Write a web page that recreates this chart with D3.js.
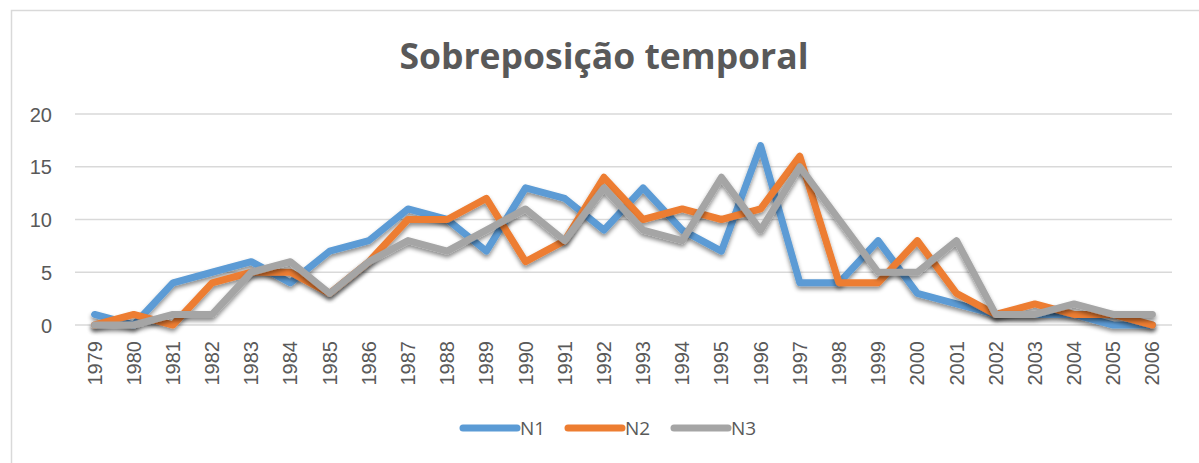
<!DOCTYPE html>
<html>
<head>
<meta charset="utf-8">
<script src="https://cdn.jsdelivr.net/npm/d3@7"></script>
<style>
  body { margin: 0; background: #fff; }
  text { font-family: "Liberation Sans", Arial, sans-serif; fill: #595959; }
</style>
</head>
<body>
<div class="chart"></div>
<script>
var width = 1199, height = 463;

// data
var years = ["1979","1980","1981","1982","1983","1984","1985","1986","1987","1988","1989","1990","1991","1992",
             "1993","1994","1995","1996","1997","1998","1999","2000","2001","2002","2003","2004","2005","2006"];
var n1 = [1,0,4,5,6,4,7,8,11,10,7,13,12,9,13,9,7,17,4,4,8,3,2,1,1,1,0,0];
var n2 = [0,1,0,4,5,5,3,6,10,10,12,6,8,14,10,11,10,11,16,4,4,8,3,1,2,1,1,0];
var n3 = [0,0,1,1,5,6,3,6,8,7,9,11,8,13,9,8,14,9,15,10,5,5,8,1,1,2,1,1];
var seriesNames = ["N1","N2","N3"];
var yTicks = [0,5,10,15,20];
var colors = ["#5B9BD5","#ED7D31","#A5A5A5"];

var series = [n1, n2, n3];

var margin = {left: 75, right: 27, top: 114, bottom: 138};

var svg = d3.select(".chart").append("svg").attr("width", width).attr("height", height);

var defs = svg.append("defs");
var f = defs.append("filter").attr("id", "shadow").attr("x", "-5%").attr("y", "-20%").attr("width", "110%").attr("height", "150%");
f.append("feDropShadow").attr("dx", 0).attr("dy", 3).attr("stdDeviation", 2).attr("flood-color", "#000").attr("flood-opacity", 0.45);

// chart border
svg.append("rect").attr("x", 11.5).attr("y", 10.5).attr("width", 1200).attr("height", 470)
  .attr("fill", "none").attr("stroke", "#d9d9d9").attr("stroke-width", 1.5);

// title
svg.append("text").attr("x", 604).attr("y", 69).attr("text-anchor", "middle")
  .style("font-family", "'Open Sans', sans-serif").style("font-weight", "bold").style("font-size", "35.5px")
  .text("Sobreposição temporal");

var x = d3.scaleBand().domain(years).range([margin.left, width - margin.right]);
var y = d3.scaleLinear().domain([0, 20]).range([height - margin.bottom, margin.top]);

// gridlines
svg.append("g").selectAll("line").data(yTicks).enter().append("line")
  .attr("x1", margin.left).attr("x2", width - margin.right)
  .attr("y1", function(d) { return y(d); }).attr("y2", function(d) { return y(d); })
  .attr("stroke", "#d9d9d9").attr("stroke-width", 1.5);

// y axis
var yAxis = svg.append("g").attr("transform", "translate(" + margin.left + ",0)")
  .call(d3.axisLeft(y).tickValues(yTicks).tickSize(0).tickPadding(23));
yAxis.select(".domain").remove();
yAxis.selectAll("text").style("font-size", "20px").attr("fill", "#595959").attr("dy", "0.35em");

// x axis
var xAxis = svg.append("g").attr("transform", "translate(0," + y(0) + ")")
  .call(d3.axisBottom(x).tickSize(0));
xAxis.select(".domain").remove();
xAxis.selectAll("text")
  .style("font-size", "20px").attr("fill", "#595959")
  .attr("text-anchor", "end")
  .attr("transform", "rotate(-90)")
  .attr("x", -16).attr("y", 0).attr("dy", "0.35em");

// lines
var line = d3.line()
  .x(function(d, i) { return x(years[i]) + x.bandwidth() / 2; })
  .y(function(d) { return y(d); });

svg.append("g").attr("class", "lines").selectAll("path").data(series).enter().append("path")
  .attr("d", line)
  .attr("fill", "none")
  .attr("stroke", function(d, i) { return colors[i]; })
  .attr("stroke-width", 7)
  .attr("stroke-linejoin", "round")
  .attr("stroke-linecap", "round")
  .attr("filter", "url(#shadow)");

// legend
var legend = svg.append("g").attr("class", "legend");
var legendX = [463, 568, 674];
seriesNames.forEach(function(name, i) {
  legend.append("line")
    .attr("x1", legendX[i]).attr("x2", legendX[i] + 54)
    .attr("y1", 428).attr("y2", 428)
    .attr("stroke", colors[i]).attr("stroke-width", 7).attr("stroke-linecap", "round");
  legend.append("text")
    .attr("x", legendX[i] + 57).attr("y", 428).attr("dy", "0.35em")
    .style("font-family", "'Open Sans', sans-serif").style("font-size", "19px")
    .text(name);
});
</script>
</body>
</html>
